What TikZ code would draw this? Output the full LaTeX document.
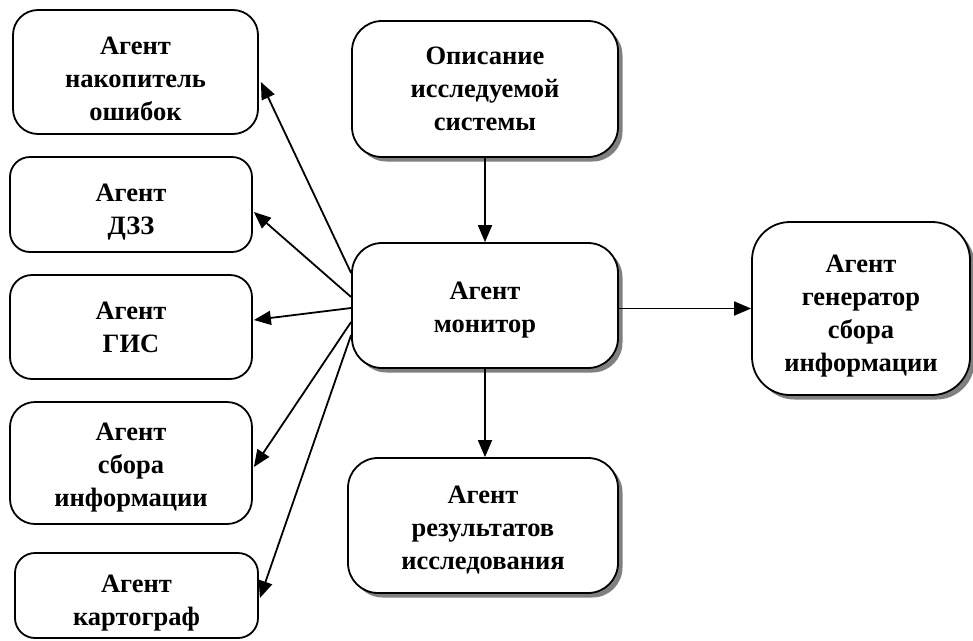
\documentclass[tikz,border=0pt]{standalone}
\usepackage{fontspec}
\setmainfont{Liberation Serif}
\usetikzlibrary{arrows.meta,shadows}
\newcommand{\tpad}{\rule{0pt}{32pt}}
\newcommand{\tpadb}{\rule{0pt}{26pt}}
\begin{document}
\begin{tikzpicture}[x=1pt,y=-1pt,
  box/.style={draw=black,line width=1.8pt,fill=white,align=center,inner sep=0pt,
    font=\fontsize{26.5}{33}\selectfont\bfseries},
  sbox/.style={box,drop shadow={shadow xshift=4.5pt,shadow yshift=-4.5pt,fill=black!50,opacity=1}},
  arr/.style={line width=1.8pt,-{Triangle[length=17pt,width=14pt]}}]
\useasboundingbox (0,0) rectangle (973,640);
% left boxes
\node[box,minimum width=245pt,minimum height=124pt,rounded corners=25pt] (b1) at (135.5,72) {\tpad Агент\\накопитель\\ошибок};
\node[box,minimum width=242pt,minimum height=95pt,rounded corners=20pt] (b2) at (131,204.5) {\tpad Агент\\ДЗЗ};
\node[box,minimum width=242pt,minimum height=104pt,rounded corners=22pt] (b3) at (131,327) {Агент\\ГИС};
\node[box,minimum width=242pt,minimum height=122pt,rounded corners=25pt] (b4) at (131,463) {\tpadb Агент\\сбора\\информации};
\node[box,minimum width=243pt,minimum height=85pt,rounded corners=20pt] (b5) at (136.5,595.5) {\tpad Агент\\картограф};
% right boxes with shadows
\node[sbox,minimum width=266pt,minimum height=136pt,rounded corners=30pt] (desc) at (485,89) {Описание\\исследуемой\\системы};
\node[sbox,minimum width=266pt,minimum height=125pt,rounded corners=30pt] (mon) at (485,305.5) {\tpadb Агент\\монитор};
\node[sbox,minimum width=218pt,minimum height=173pt,rounded corners=38pt] (gen) at (861,308.5) {\tpad Агент\\генератор\\сбора\\информации};
\node[sbox,minimum width=270pt,minimum height=135pt,rounded corners=30pt] (res) at (483,525.5) {\tpadb Агент\\результатов\\исследования};
% connectors
\draw[arr] (desc.south) -- (mon.north);
\draw[arr] (mon.south) -- (mon.south |- res.north);
\draw[arr] (mon.east |- gen.west) -- (gen.west);
\draw[arr] ([yshift=32.5pt]mon.west) -- ([yshift=-10pt,xshift=2pt]b1.east);
\draw[arr] ([yshift=8.5pt]mon.west) -- ([yshift=-7.5pt,xshift=1pt]b2.east);
\draw[arr] ([yshift=-2.5pt]mon.west) -- ([yshift=7pt,xshift=1pt]b3.east);
\draw[arr] ([yshift=-16.5pt]mon.west) -- ([yshift=-4pt,xshift=1pt]b4.east);
\draw[arr] ([yshift=-29.5pt]mon.west) -- ([yshift=-2.5pt,xshift=1pt]b5.east);
\end{tikzpicture}
\end{document}
